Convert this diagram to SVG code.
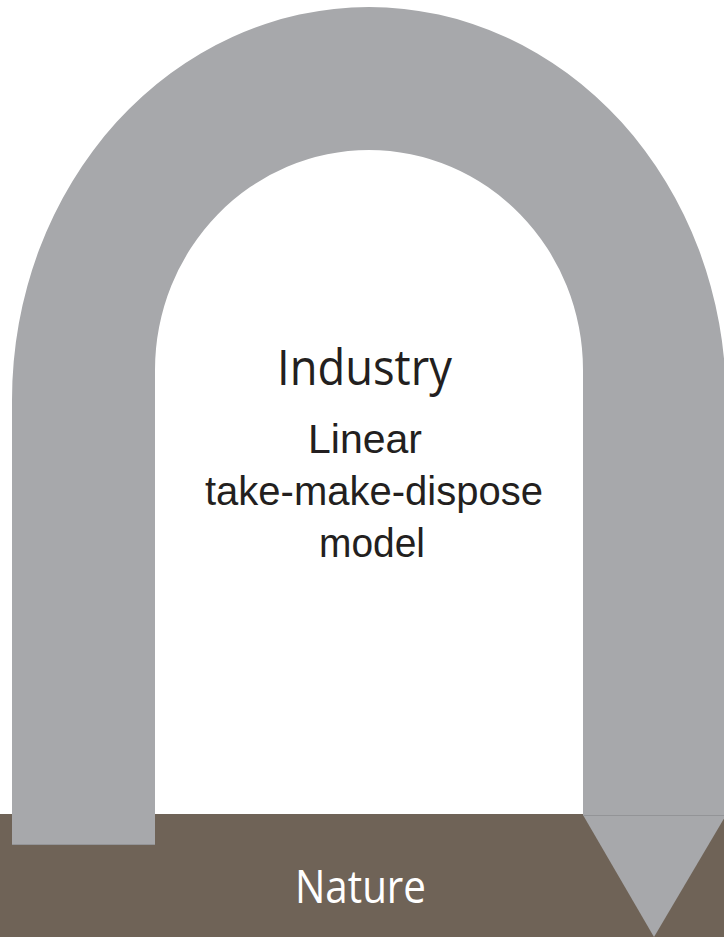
<svg xmlns="http://www.w3.org/2000/svg" width="724" height="937" viewBox="0 0 724 937">
  <style>
    .band { fill: #a7a8ab; }
    .seam { stroke: #939497; stroke-width: 1; fill: none; }
    .title { font-family: "Open Sans", "Noto Sans", sans-serif; text-anchor: middle; }
    .body { font-family: "Liberation Sans", Arial, sans-serif; font-size: 41px; fill: #231f20; text-anchor: middle; }
  </style>
  <rect width="724" height="937" fill="#ffffff"/>

  <!-- ground -->
  <g id="nature">
    <rect x="0" y="814" width="724" height="123" fill="#6f6357"/>
    <text class="title" x="360.5" y="903" font-size="45" fill="#ffffff" textLength="131" lengthAdjust="spacingAndGlyphs">Nature</text>
  </g>

  <!-- the one-way flow: up out of nature, over the arch, back down as waste -->
  <g id="connectors">
    <path class="band" d="M12,845 V400 A357,393 0 0 1 726,400 V815 H583 V370 A214,220 0 0 0 155,370 V845 Z"/>
    <polygon class="band" points="583,815 726,815 654,937"/>
    <line class="seam" x1="583" y1="815.5" x2="724" y2="815.5"/>
    <line class="seam" x1="12" y1="844.5" x2="155" y2="844.5"/>
  </g>

  <g id="industry">
    <text class="title" x="364.5" y="385" font-size="49" fill="#231f20" textLength="175" lengthAdjust="spacingAndGlyphs">Industry</text>
    <text class="body" x="365" y="453">Linear</text>
    <text class="body" x="374" y="505" textLength="338" lengthAdjust="spacingAndGlyphs">take-make-dispose</text>
    <text class="body" x="372" y="557" textLength="106" lengthAdjust="spacingAndGlyphs">model</text>
  </g>
</svg>
